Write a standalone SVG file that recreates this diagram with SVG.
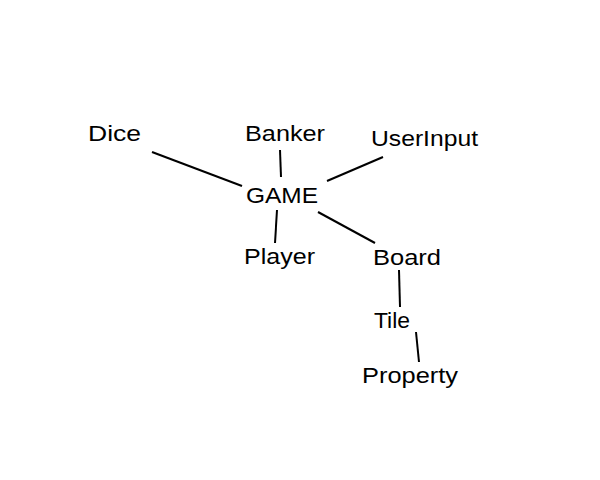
<svg xmlns="http://www.w3.org/2000/svg" width="600" height="480" viewBox="0 0 600 480">
<style>
text{font-family:"Liberation Sans",Arial,sans-serif;font-size:22.5px;fill:#000}
.c line{stroke:#000;stroke-width:2;stroke-linecap:butt}
</style>
<rect width="600" height="480" fill="#fff"/>
<g class="c" id="connectors">
<line x1="152" y1="152" x2="242" y2="186"/>
<line x1="280" y1="150" x2="281" y2="177"/>
<line x1="277" y1="210" x2="275" y2="243"/>
<line x1="327" y1="181" x2="383" y2="157"/>
<line x1="318" y1="212" x2="375" y2="243"/>
<line x1="399" y1="270" x2="400" y2="307"/>
<line x1="416" y1="332" x2="419" y2="362"/>
</g>
<g id="dice"><text x="88" y="141" textLength="53" lengthAdjust="spacingAndGlyphs">Dice</text></g>
<g id="banker"><text x="245" y="141" textLength="80" lengthAdjust="spacingAndGlyphs">Banker</text></g>
<g id="userinput"><text x="371" y="146" textLength="107" lengthAdjust="spacingAndGlyphs">UserInput</text></g>
<g id="game"><text x="246" y="203" textLength="72" lengthAdjust="spacingAndGlyphs">GAME</text></g>
<g id="player"><text x="244" y="264" textLength="71" lengthAdjust="spacingAndGlyphs">Player</text></g>
<g id="board"><text x="373" y="265" textLength="68" lengthAdjust="spacingAndGlyphs">Board</text></g>
<g id="tile"><text x="374" y="328" textLength="36" lengthAdjust="spacingAndGlyphs">Tile</text></g>
<g id="property"><text x="362" y="383" textLength="96" lengthAdjust="spacingAndGlyphs">Property</text></g>
</svg>
